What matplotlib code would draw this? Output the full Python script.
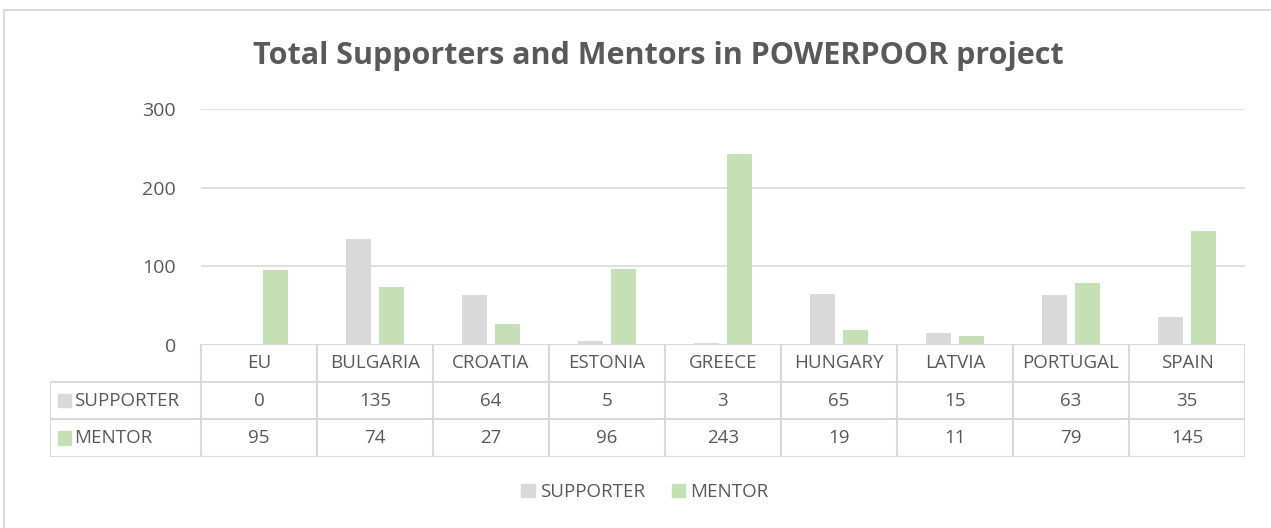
import matplotlib
matplotlib.use("Agg")
import matplotlib.pyplot as plt
from matplotlib.patches import Rectangle
from matplotlib.lines import Line2D

# chart data
countries = ["EU", "BULGARIA", "CROATIA", "ESTONIA", "GREECE",
             "HUNGARY", "LATVIA", "PORTUGAL", "SPAIN"]
supporter = [0, 135, 64, 5, 3, 65, 15, 63, 35]
mentor = [95, 74, 27, 96, 243, 19, 11, 79, 145]
series_names = ["SUPPORTER", "MENTOR"]
yticks = [0, 100, 200, 300]

GREY = "#D9D9D9"
GREEN = "#C5E0B4"
TEXT = "#595959"
LINE = "#D9D9D9"

plt.rcParams["font.family"] = ["Open Sans", "DejaVu Sans"]

W, H = 1271, 528
fig = plt.figure(figsize=(W / 100, H / 100), dpi=100)


def fbox(x0, y0, x1, y1):
    # pixel box (top-left origin) -> figure fraction rect
    return [x0 / W, 1 - y1 / H, (x1 - x0) / W, (y1 - y0) / H]


# outer chart border (only top/left visible)
fig.add_artist(Line2D([4 / W, 4 / W], [0, 1 - 10 / H], color=LINE, lw=1.5))
fig.add_artist(Line2D([4 / W, 1], [1 - 10 / H, 1 - 10 / H], color=LINE, lw=1.5))

# bar plot area
ax = fig.add_axes(fbox(201, 109, 1245, 345))
n = len(countries)
xs = list(range(n))
bw = 0.215
off = 0.14
ax.bar([x - off for x in xs], supporter, width=bw, color=GREY, zorder=3)
ax.bar([x + off for x in xs], mentor, width=bw, color=GREEN, zorder=3)
ax.set_xlim(-0.5, n - 0.5)
ax.set_ylim(0, 300)
ax.set_yticks(yticks)
ax.set_yticklabels([str(t) for t in yticks], fontsize=14, color=TEXT)
ax.tick_params(axis="y", length=0, pad=18)
ax.set_xticks([])
ax.grid(axis="y", color=LINE, lw=1.2, zorder=0)
for s in ax.spines.values():
    s.set_visible(False)

# data table below the plot
lab_w = (201 - 50) / ((1245 - 201) / n)
tax = fig.add_axes(fbox(50, 344, 1245, 457))
tax.set_xlim(-0.5 - lab_w, n - 0.5)
tax.set_ylim(0, 3)
tax.axis("off")

lc = dict(color=LINE, lw=1.5, solid_capstyle="butt")
# horizontal lines
tax.plot([-0.5, n - 0.5], [3, 3], **lc)
for yv in (2, 1, 0):
    tax.plot([-0.5 - lab_w, n - 0.5], [yv, yv], **lc)
# vertical lines
tax.plot([-0.5 - lab_w, -0.5 - lab_w], [0, 2], **lc)
for i in range(n + 1):
    tax.plot([i - 0.5, i - 0.5], [0, 3], **lc)

fs = 13.5
for i, c in enumerate(countries):
    tax.text(i, 2.5, c, ha="center", va="center", fontsize=fs, color=TEXT)
    tax.text(i, 1.5, str(supporter[i]), ha="center", va="center", fontsize=fs, color=TEXT)
    tax.text(i, 0.5, str(mentor[i]), ha="center", va="center", fontsize=fs, color=TEXT)

for row, name, col in ((1.5, series_names[0], GREY), (0.5, series_names[1], GREEN)):
    x0 = -0.5 - lab_w + 0.07
    tax.add_patch(Rectangle((x0, row - 0.18), 0.11, 0.36, color=col, clip_on=False))
    tax.text(x0 + 0.14, row, name, ha="left", va="center", fontsize=fs, color=TEXT)

# title
fig.text(658 / W, 1 - 56 / H, "Total Supporters and Mentors in POWERPOOR project",
         ha="center", va="center", fontsize=22, fontweight="bold", color=TEXT)

# legend
handles = [Rectangle((0, 0), 1, 1, color=GREY), Rectangle((0, 0), 1, 1, color=GREEN)]
fig.legend(handles, series_names, loc="center", bbox_to_anchor=(645 / W, 1 - 492 / H),
           ncol=2, frameon=False, fontsize=fs, handlelength=0.7, handleheight=0.7,
           handletextpad=0.3, columnspacing=1.4, labelcolor=TEXT)

fig.savefig("out.png", dpi=100)
